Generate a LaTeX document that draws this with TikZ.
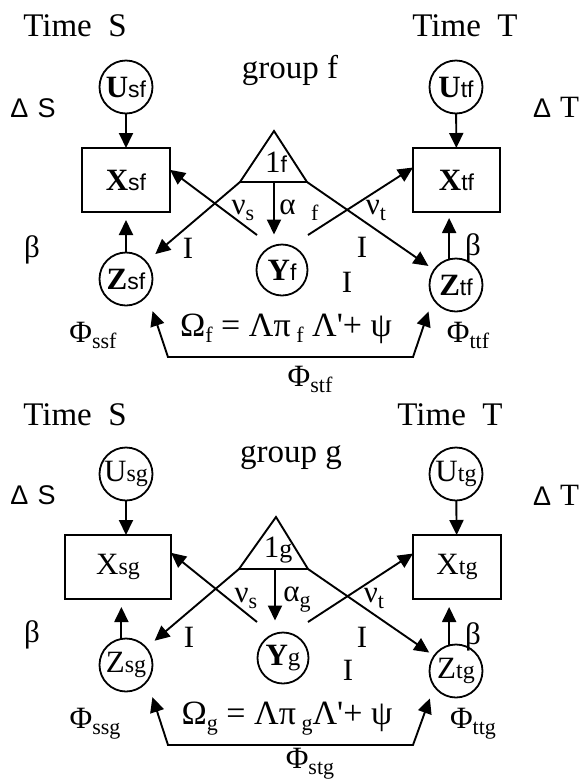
\documentclass[tikz,border=0pt]{standalone}
\usepackage{fontspec}
\setmainfont{Liberation Serif}
\setsansfont{Liberation Sans}
\newfontfamily\plainserif{Liberation Serif}
\usetikzlibrary{arrows.meta,calc}
\newcommand{\fs}[1]{\fontsize{#1}{#1}\selectfont}
\newcommand{\lowsub}[1]{\raisebox{-6pt}{\fs{22}#1}}
\newcommand{\nlb}[2]{{\fs{31}\bfseries #1}{\fs{23}#2}}
\newcommand{\nlr}[2]{{\fs{31}#1}{\fs{24}#2}}
\newcommand{\apo}{{\plainserif '}}
\begin{document}
\begin{tikzpicture}[x=1pt,y=-1pt,
  every node/.style={inner sep=0pt, outer sep=0pt},
  lbl/.style={font=\fs{31}},
  frm/.style={font=\fs{34}},
  big/.style={font=\fs{33}},
  circ/.style={draw, circle, line width=1.8pt, minimum size=53pt, inner sep=0pt},
  box/.style={draw, rectangle, line width=1.8pt, minimum height=64pt},
  ln/.style={line width=1.9pt},
  arr/.style={line width=1.9pt, -{Triangle[length=15pt,width=14pt]}},
  darr/.style={line width=1.9pt, {Triangle[length=15pt,width=14pt]}-{Triangle[length=15pt,width=14pt]}},
]
\path[use as bounding box] (0,0) rectangle (581,780);

% ================= group f =================
\node[big, anchor=base] (timeSf) at (75,36) {Time~~S};
\node[big, anchor=base] (timeTf) at (465,36) {Time~~T};
\node[big, anchor=base] (groupf) at (290,78) {group f};
\node[anchor=base] (dSf) at (33,117) {\fs{27}\sffamily Δ\hspace{9pt}S};
\node[anchor=base] (dTf) at (556,117) {\fs{31}{\fs{27}\sffamily Δ}\hspace{9pt}T};

\node[circ] (Usf) at (126,87) {\nlb{U}{\sffamily sf}};
\node[circ] (Utf) at (456,87) {\nlb{U}{\sffamily tf}};
\node[box, minimum width=88pt] (Xsf) at (126,180) {\nlb{X}{\sffamily sf}};
\node[box, minimum width=87pt] (Xtf) at (456.5,180) {\nlb{X}{\sffamily tf}};
\node[circ] (Zsf) at (126,279) {\nlb{Z}{\sffamily sf}};
\node[circ] (Ztf) at (456,285) {\nlb{Z}{\sffamily tf}};
\node[circ, minimum size=51pt] (Yf) at (282,270) {\nlb{Y}{\sffamily f}};

\coordinate (Af) at (274,131);
\coordinate (BLf) at (240,182);
\coordinate (BRf) at (307,182);
\coordinate (BMf) at (274,182);
\draw[ln, line join=miter] (Af) -- (BLf) -- (BRf) -- cycle;
\node (onef) at (276,162) {{\fs{31}1}{\fs{23}\sffamily f}};

\coordinate (ysLf) at (257,235);
\coordinate (ysRf) at (308,235);
\coordinate (cLf) at (168,357);
\coordinate (cRf) at (413,357);

\draw[arr] (Usf) -- (Xsf);
\draw[arr] (Utf) -- (Xtf);
\draw[arr, shorten >=8pt] (Zsf.north) -- (Xsf.south);
\draw[arr, shorten >=6pt] (Ztf.105) -- (Ztf.105 |- Xtf.south);
\draw[arr, shorten >=10pt] (BMf) -- (BMf |- Yf.north);
\draw[arr] (ysLf) -- (Xsf.13);
\draw[arr] (ysRf) -- (Xtf.164);
\draw[arr, shorten >=12pt] (BLf) -- (Zsf);
\draw[arr, shorten >=7pt] (BRf) -- (Ztf);
\draw[darr, shorten <=17pt, shorten >=14pt] (Zsf.-37) -- (cLf) -- (cRf) -- (Ztf.-150);

\node[lbl] (betaLf) at (32,250) {β};
\node[lbl] (betaRf) at (473,248) {β};
\node[lbl] (I1f) at (188,248) {I};
\node[lbl] (I2f) at (362,247) {I};
\node[lbl] (I3f) at (347,282) {I};
\node[lbl] (nusf) at (243,210) {ν\lowsub{s}};
\node[lbl] (alphaf) at (299,210) {α~~\lowsub{f}};
\node[lbl] (nutf) at (376,210) {ν\lowsub{t}};
\node[lbl] (Phissf) at (93,335) {Φ\lowsub{ssf}};
\node[lbl] (Phittf) at (468,335) {Φ\lowsub{ttf}};
\node[lbl] (Phistf) at (310,379) {Φ\lowsub{stf}};
\node[frm] (Omegaf) at (286,329) {Ω\lowsub{f} = Λπ\,\lowsub{f} Λ\apo+ ψ};

% ================= group g =================
\node[big, anchor=base] (timeSg) at (75,425) {Time~~S};
\node[big, anchor=base] (timeTg) at (450,425) {Time~~T};
\node[big, anchor=base] (groupg) at (291,462) {group g};
\node[anchor=base] (dSg) at (33,504) {\fs{27}\sffamily Δ\hspace{9pt}S};
\node[anchor=base] (dTg) at (556,505) {\fs{31}{\fs{27}\sffamily Δ}\hspace{9pt}T};

\node[circ] (Usg) at (126,474) {\nlr{U}{sg}};
\node[circ] (Utg) at (456,474) {\nlr{U}{tg}};
\node[box, minimum width=106pt] (Xsg) at (118,567) {\nlr{X}{sg}};
\node[box, minimum width=88pt] (Xtg) at (457,567) {\nlr{X}{tg}};
\node[circ] (Zsg) at (126,665) {\nlr{Z}{sg}};
\node[circ] (Ztg) at (456,671) {\nlr{Z}{tg}};
\node[circ, minimum size=51pt] (Yg) at (283,658) {\nlb{Y}{\mdseries\fs{25}g}};

\coordinate (Ag) at (276,517);
\coordinate (BLg) at (239,569);
\coordinate (BRg) at (308,569);
\coordinate (BMg) at (275,569);
\draw[ln, line join=miter] (Ag) -- (BLg) -- (BRg) -- cycle;
\node (oneg) at (278,550) {{\fs{31}1}{\fs{26}g}};

\coordinate (ysLg) at (257,622);
\coordinate (ysRg) at (308,622);
\coordinate (cLg) at (168,745);
\coordinate (cRg) at (413,745);

\draw[arr] (Usg) -- (Usg |- Xsg.north);
\draw[arr] (Utg) -- (Xtg);
\draw[arr, shorten >=8pt] (Zsg.100) -- (Zsg.100 |- Xsg.south);
\draw[arr, shorten >=8pt] (Ztg.105) -- (Ztg.105 |- Xtg.south);
\draw[arr, shorten >=12pt] (BMg) -- (BMg |- Yg.north);
\draw[arr] (ysLg) -- (Xsg.15);
\draw[arr] (ysRg) -- (Xtg.163);
\draw[arr, shorten >=11pt] (BLg) -- (Zsg);
\draw[arr, shorten >=6pt] (BRg) -- (Ztg);
\draw[darr, shorten <=17pt, shorten >=13pt] (Zsg.-37) -- (cLg) -- (cRg) -- (Ztg.-145);

\node[lbl] (betaLg) at (32,635) {β};
\node[lbl] (betaRg) at (473,637) {β};
\node[lbl] (I1g) at (189,637) {I};
\node[lbl] (I2g) at (362,637) {I};
\node[lbl] (I3g) at (348,670) {I};
\node[lbl] (nusg) at (246,598) {ν\lowsub{s}};
\node[lbl] (alphag) at (297,600) {α\lowsub{g}};
\node[lbl] (nutg) at (374,598) {ν\lowsub{t}};
\node[lbl] (Phissg) at (95,724) {Φ\lowsub{ssg}};
\node[lbl] (Phittg) at (473,724) {Φ\lowsub{ttg}};
\node[lbl] (Phistg) at (310,764) {Φ\lowsub{stg}};
\node[frm] (Omegag) at (287,719) {Ω\lowsub{g} = Λπ\,\lowsub{g}Λ\apo+ ψ};
\end{tikzpicture}
\end{document}
